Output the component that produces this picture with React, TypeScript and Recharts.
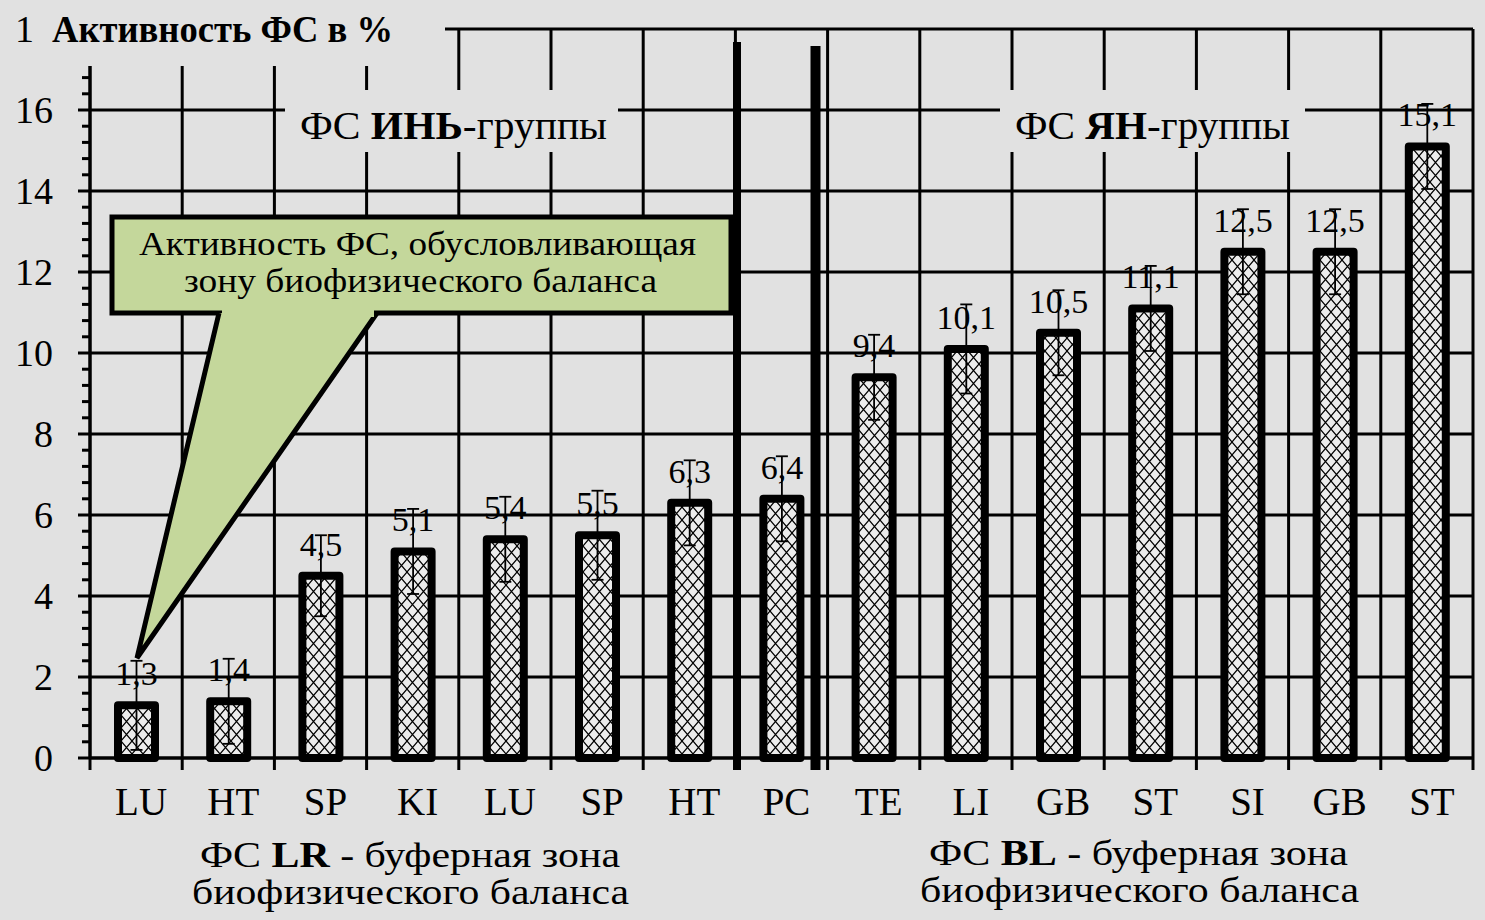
import React from 'react'
import { BarChart, Bar, XAxis, YAxis, CartesianGrid, ErrorBar, LabelList } from 'recharts'

// activity of functional systems, %
const CATEGORIES = ['LU', 'HT', 'SP', 'KI', 'LU', 'SP', 'HT', 'PC', 'TE', 'LI', 'GB', 'ST', 'SI', 'GB', 'ST']
const ACTIVITY = [1.3, 1.4, 4.5, 5.1, 5.4, 5.5, 6.3, 6.4, 9.4, 10.1, 10.5, 11.1, 12.5, 12.5, 15.1]
const ERRORS = [1.1, 1.05, 1.0, 1.05, 1.05, 1.1, 1.05, 1.05, 1.05, 1.1, 1.05, 1.05, 1.05, 1.05, 1.05]
const Y_TICKS = [0, 2, 4, 6, 8, 10, 12, 14, 16, 18]
const Y_MAX = 18
const Y_MINOR_STEP = 0.4

const W = 1485
const H = 920
const MARGIN = { top: 29, right: 12, left: 0, bottom: 0 }
const Y_AXIS_W = 90
const X_AXIS_H = 162
const BAND = (W - MARGIN.left - MARGIN.right - Y_AXIS_W) / CATEGORIES.length

const BG = '#e1e1e1'
const GREEN = '#c4d79b'
const SERIF = 'Liberation Serif, Tinos, DejaVu Serif'

const data = ACTIVITY.map((v, i) => ({ idx: i, value: v, err: ERRORS[i] }))

const allYTicks = Array.from({ length: Math.round(Y_MAX / Y_MINOR_STEP) + 1 }, (_, i) =>
  Math.round(i * Y_MINOR_STEP * 10) / 10
)

const YTick = (props: any) => {
  const { x, y, payload } = props
  const v = payload.value
  const major = Y_TICKS.includes(v)
  return (
    <g>
      <line x1={x - (major ? 12 : 8)} x2={x} y1={y} y2={y} stroke="#000" strokeWidth={3} />
      {major && (
        <text
          x={x - 37}
          y={y}
          textAnchor="end"
          dominantBaseline="central"
          fontSize={38}
          style={{ fontFamily: SERIF }}
          fill="#000"
        >
          {v}
        </text>
      )}
    </g>
  )
}

const XTick = (props: any) => {
  const { x, y, payload, index } = props
  const left = x - BAND / 2
  return (
    <g>
      <line x1={left} x2={left} y1={y} y2={y + 12} stroke="#000" strokeWidth={3} />
      {index === CATEGORIES.length - 1 && (
        <line x1={x + BAND / 2} x2={x + BAND / 2} y1={y} y2={y + 12} stroke="#000" strokeWidth={3} />
      )}
      <text x={x + 5} y={y + 57} textAnchor="middle" fontSize={39} style={{ fontFamily: SERIF }} fill="#000">
        {CATEGORIES[payload.value]}
      </text>
    </g>
  )
}

export default function App() {
  return (
    <div
      style={{
        position: 'absolute',
        left: 0,
        top: 0,
        width: W,
        height: H,
        background: BG,
        overflow: 'hidden',
        fontFamily: SERIF,
      }}
    >
      <svg width={0} height={0} style={{ position: 'absolute' }}>
        <defs>
          <pattern id="xhatch" patternUnits="userSpaceOnUse" width="11" height="13">
            <rect width="11" height="13" fill="#ececec" />
            <path d="M0,0 L11,13 M11,0 L0,13" stroke="#000" strokeWidth="1.2" />
          </pattern>
        </defs>
      </svg>
      <BarChart width={W} height={H} data={data} margin={MARGIN} style={{ fontFamily: SERIF }}>
        <CartesianGrid
          stroke="#000"
          strokeWidth={3}
          fill="none"
          horizontalCoordinatesGenerator={({ offset }: any) =>
            Y_TICKS.map(v => offset.top + offset.height * (1 - v / Y_MAX))
          }
          verticalCoordinatesGenerator={({ offset }: any) =>
            Array.from({ length: CATEGORIES.length + 1 }, (_, i) => offset.left + (i * offset.width) / CATEGORIES.length)
          }
        />
        <XAxis
          dataKey="idx"
          type="category"
          height={X_AXIS_H}
          interval={0}
          tickSize={0}
          tickMargin={0}
          tickLine={false}
          axisLine={{ stroke: '#000', strokeWidth: 3 }}
          tick={<XTick />}
        />
        <YAxis
          type="number"
          domain={[0, Y_MAX]}
          ticks={allYTicks}
          interval={0}
          width={Y_AXIS_W}
          tickSize={0}
          tickMargin={0}
          tickLine={false}
          axisLine={{ stroke: '#000', strokeWidth: 3 }}
          tick={<YTick />}
        />
        <Bar
          dataKey="value"
          fill="url(#xhatch)"
          stroke="#000"
          strokeWidth={8}
          strokeLinejoin="round"
          barSize={37}
          isAnimationActive={false}
        >
          <ErrorBar dataKey="err" width={6} stroke="#000" strokeWidth={1.8} direction="y" />
          <LabelList
            dataKey="value"
            position="top"
            offset={20}
            formatter={(v: any) => String(v).replace('.', ',')}
            fill="#000"
            fontSize={34}
            style={{ fontFamily: SERIF }}
          />
        </Bar>
      </BarChart>

      <svg
        width={W}
        height={H}
        style={{ position: 'absolute', left: 0, top: 0, pointerEvents: 'none', fontFamily: SERIF }}
      >
        {/* y axis title, hides the top of the grid */}
        <rect x={33} y={0} width={412} height={66} fill={BG} />
        <text x={52} y={42} fontSize={38} fontWeight="bold" fill="#000" textLength={341} lengthAdjust="spacingAndGlyphs">
          Активность ФС в %
        </text>

        {/* group labels */}
        <rect x={285} y={90} width={333} height={62} fill={BG} />
        <text x={300} y={139} fontSize={39} fill="#000" textLength={307} lengthAdjust="spacingAndGlyphs">
          ФС <tspan fontWeight="bold">ИНЬ</tspan>-группы
        </text>
        <rect x={1000} y={90} width={305} height={62} fill={BG} />
        <text x={1015} y={139} fontSize={39} fill="#000" textLength={275} lengthAdjust="spacingAndGlyphs">
          ФС <tspan fontWeight="bold">ЯН</tspan>-группы
        </text>

        {/* group dividers */}
        <line x1={737} x2={737} y1={42} y2={770} stroke="#000" strokeWidth={8} />
        <line x1={815.5} x2={815.5} y1={46} y2={770} stroke="#000" strokeWidth={10} />

        {/* callout */}
        <rect x={112} y={217} width={619} height={96} fill={GREEN} stroke="#000" strokeWidth={5} />
        <path d="M219,313 L137,658 L377,313" fill={GREEN} stroke="#000" strokeWidth={5} strokeLinejoin="miter" />
        <rect x={222} y={309} width={152} height={8} fill={GREEN} />
        <text x={139} y={255} fontSize={33} fill="#000" textLength={557} lengthAdjust="spacingAndGlyphs">
          Активность ФС, обусловливающая
        </text>
        <text x={184} y={292} fontSize={33} fill="#000" textLength={473} lengthAdjust="spacingAndGlyphs">
          зону биофизического баланса
        </text>

        {/* bottom captions */}
        <text x={200} y={867} fontSize={36} fill="#000" textLength={420} lengthAdjust="spacingAndGlyphs">
          ФС <tspan fontWeight="bold">LR</tspan> - буферная зона
        </text>
        <text x={192} y={904} fontSize={36} fill="#000" textLength={437} lengthAdjust="spacingAndGlyphs">
          биофизического баланса
        </text>
        <text x={929} y={865} fontSize={36} fill="#000" textLength={419} lengthAdjust="spacingAndGlyphs">
          ФС <tspan fontWeight="bold">BL</tspan> - буферная зона
        </text>
        <text x={920} y={902} fontSize={36} fill="#000" textLength={439} lengthAdjust="spacingAndGlyphs">
          биофизического баланса
        </text>
      </svg>
    </div>
  )
}
